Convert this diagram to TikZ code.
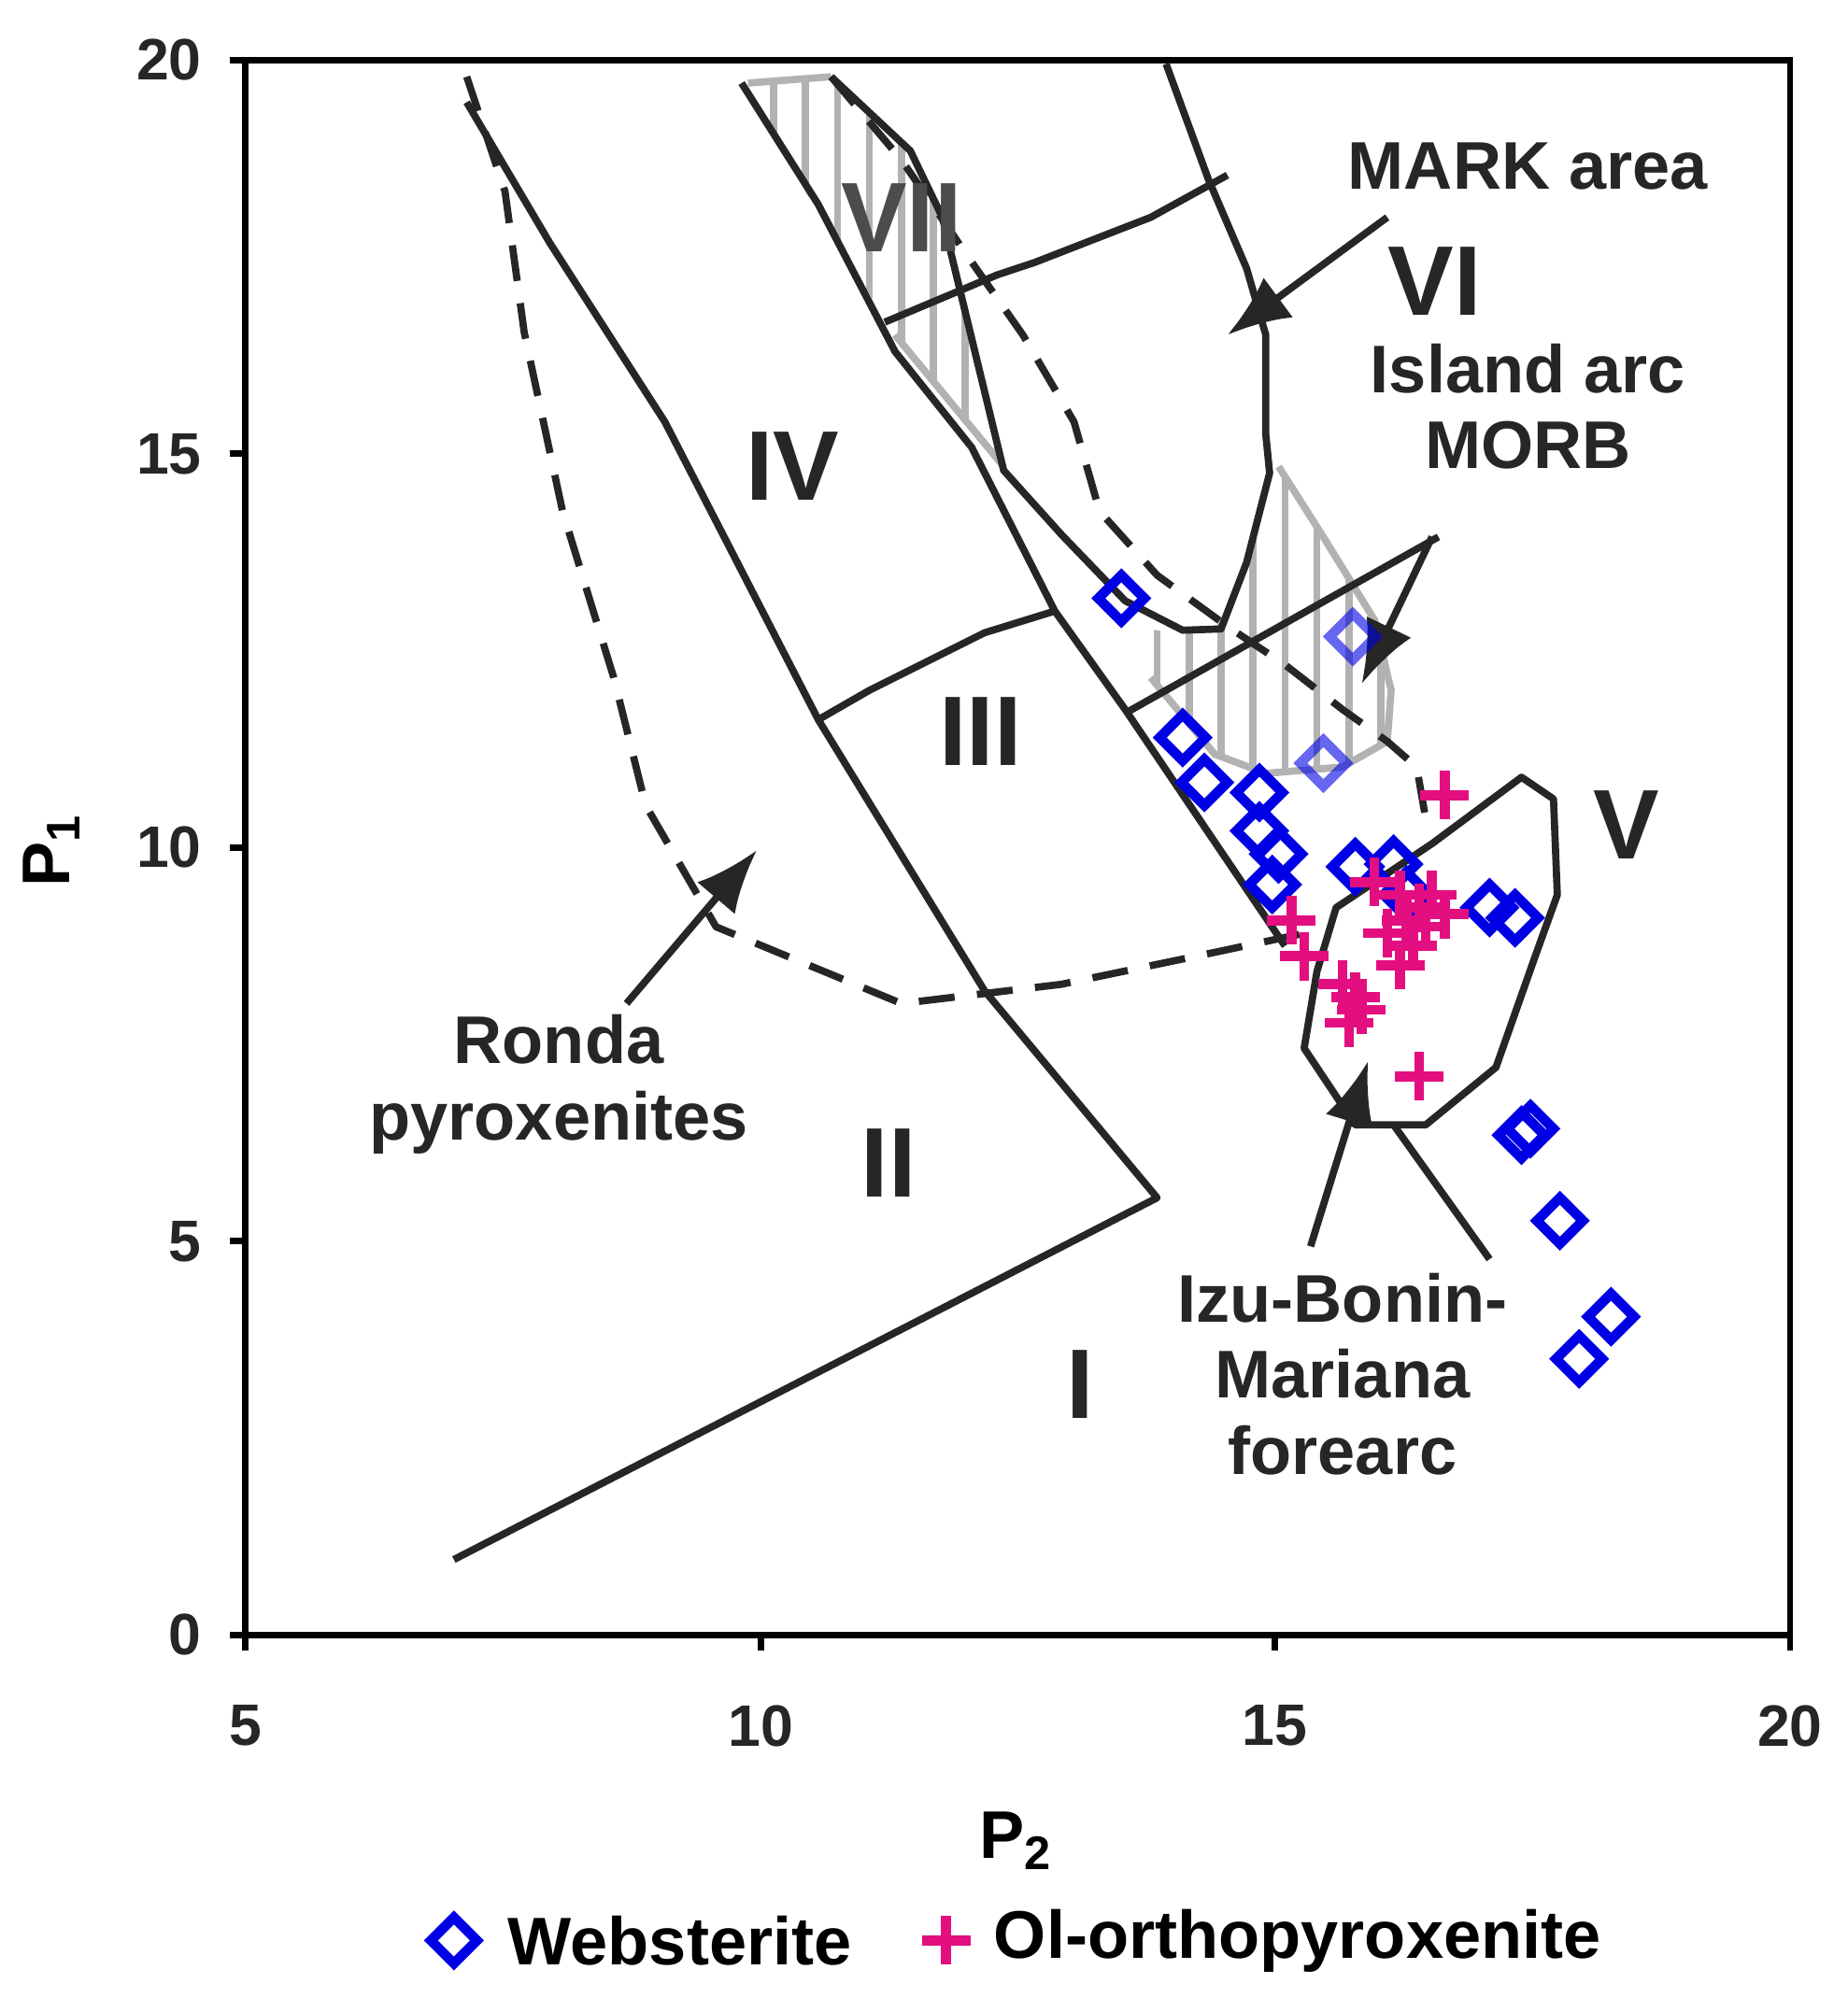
\documentclass[tikz,border=0pt]{standalone}
\usepackage{fontspec}
\setmainfont{Liberation Sans}
\usetikzlibrary{arrows.meta}
\begin{document}
\begin{tikzpicture}[x=0.01cm,y=-0.01cm,
  bd/.style={line width=1.6pt,black!85,line join=round},
  dsh/.style={bd,dash pattern=on 8pt off 5pt},
  arr/.style={bd,-{Latex[length=14pt,width=11pt]}},
  gr/.style={line width=1.6pt,black!30},
  wb/.style={draw=blue!90!black,line width=2.2pt,shape=diamond,minimum size=36\pgflinewidth/2.2,inner sep=0pt},
  lab/.style={font=\fontsize{15}{17}\selectfont\bfseries,text=black!85,align=center},
  rom/.style={font=\fontsize{22}{24}\selectfont\bfseries,text=black!85},
  tick/.style={font=\fontsize{13}{15}\selectfont\bfseries,text=black!85}]
\useasboundingbox (0,0) rectangle (1445,1563);
\newcommand{\wbp}[2]{\draw[blue!90!black,line width=2.2pt] (#1-18,#2)--(#1,#2-18)--(#1+18,#2)--(#1,#2+18)--cycle;}
\newcommand{\olp}[2]{\draw[magenta!80!purple,line width=2.2pt] (#1-19,#2)--(#1+19,#2) (#1,#2-19)--(#1,#2+19);}
% frame
\draw[line width=1.4pt] (192,47) rectangle (1400,1279);
\foreach \y/\t in {47/20,355/15,663/10,971/5,1279/0}{\draw[line width=1.4pt] (180,\y)--(192,\y); \node[tick,anchor=east] at (170,\y) {\t};}
\foreach \x/\t in {192/5,595/10,997/15,1400/20}{\draw[line width=1.4pt] (\x,1279)--(\x,1291); \node[tick] at (\x,1350) {\t};}
\node[font=\fontsize{15}{17}\selectfont\bfseries] (p2) at (795,1440) {P\textsubscript{2}};
\node[font=\fontsize{15}{17}\selectfont\bfseries,rotate=90] (p1) at (40,665) {P\textsubscript{1}};
% hatched regions
\begin{scope}
\clip (585,65)--(650,60)--(712,118)--(737,170)--(785,365)--(700,262)--(630,150)--cycle;
\foreach \x in {605,630,...,790}{\draw[gr] (\x,40)--(\x,400);}
\end{scope}
\draw[gr] (585,65)--(650,60) (700,262)--(785,365);
\begin{scope}
\clip (1000,365)--(1035,420)--(1075,485)--(1088,540)--(1085,580)--(1050,600)--(990,605)--(950,590)--(900,530)--(880,490)--(920,495)--(958,482)--(975,440)--cycle;
\foreach \x in {905,930,...,1090}{\draw[gr] (\x,350)--(\x,620);}
\end{scope}
\draw[gr] (1000,365)--(1035,420)--(1075,485)--(1088,540)--(1085,580)--(1050,600)--(990,605)--(950,590)--(900,530);
% solid lines
\draw[bd] (365,80)--(430,190)--(520,330)--(640,563)--(770,775)--(905,937)--(355,1220);
\draw[bd] (640,563)--(680,540)--(770,495)--(825,478);
\draw[bd] (880,558)--(1125,420);
\draw[bd] (580,65)--(640,160)--(700,275)--(760,350)--(825,478)--(880,555)--(1005,740);
\draw[bd] (650,60)--(712,118)--(737,170)--(785,368)--(830,418)--(880,470)--(925,493)--(955,492)--(975,440)--(993,370)--(990,340)--(990,262)--(975,210)--(945,140)--(912,50);
\draw[bd] (692,252)--(780,215)--(810,205)--(900,170)--(960,137);
% dashed
\draw[dsh] (365,60)--(395,150)--(410,260)--(440,400)--(480,530)--(505,630)--(560,725)--(705,785)--(830,770)--(950,745)--(1030,728);
\draw[dsh] (650,60)--(705,125)--(760,205)--(800,262)--(840,330)--(860,400)--(905,450)--(960,490)--(1005,520)--(1050,555)--(1085,580)--(1108,600)--(1115,640);
% region V
\draw[bd] (1045,710)--(1120,660)--(1190,608)--(1215,625)--(1218,700)--(1200,750)--(1170,835)--(1115,880)--(1060,880)--(1020,820)--(1030,760)--cycle;
\draw[bd] (1090,880)--(1165,985);
% labels
\node[rom,text=black!70] (r7) at (705,170) {VII};
\node[rom] (r6) at (1122,220) {VI};
\node[rom] (r4) at (620,365) {IV};
\node[rom] (r3) at (767,572) {III};
\node[rom] (r2) at (695,910) {II};
\node[rom] (r1) at (845,1083) {I};
\node[rom] (r5) at (1272,645) {V};
\node[lab] (mark) at (1195,130) {MARK area};
\node[lab] (isl) at (1195,318) {Island arc\\MORB};
\node[lab] (ronda) at (437,848) {Ronda\\pyroxenites};
\node[lab] (izu) at (1050,1075) {Izu-Bonin-\\Mariana\\forearc};
\coordinate (a1) at (960,262); \coordinate (a2) at (1065,535); \coordinate (a3) at (592,665); \coordinate (a4) at (1070,830);
\draw[arr] (1085,170)--(a1);
\draw[arr] (1120,420)--(a2);
\draw[arr] (490,785)--(a3);
\draw[arr] (1025,975)--(a4);
% data
\foreach \x/\y in {877/468,925/577,942/612,985/620,985/650,1000/668,995/692,1060/678,1090/676,1100/700,1165/710,1185/718,1190/888,1197/883,1220/955,1260/1030,1235/1063}{\wbp{\x}{\y}}
\begin{scope}[opacity=0.6]\wbp{1058}{498}\wbp{1035}{597}\end{scope}
\foreach \x/\y in {1130/622,1010/720,1020/748,1075/690,1095/700,1100/720,1110/710,1120/700,1130/715,1105/740,1050/770,1060/780,1055/800,1065/790,1110/842,1095/755,1085/730,1115/725}{\olp{\x}{\y}}
% legend
\wbp{355}{1518}
\node[font=\fontsize{15}{17}\selectfont\bfseries,anchor=west] (lw) at (385,1518) {Websterite};
\olp{740}{1518}
\node[font=\fontsize{15}{17}\selectfont\bfseries,anchor=west] (lo) at (765,1518) {Ol-orthopyroxenite};
\end{tikzpicture}
\end{document}
